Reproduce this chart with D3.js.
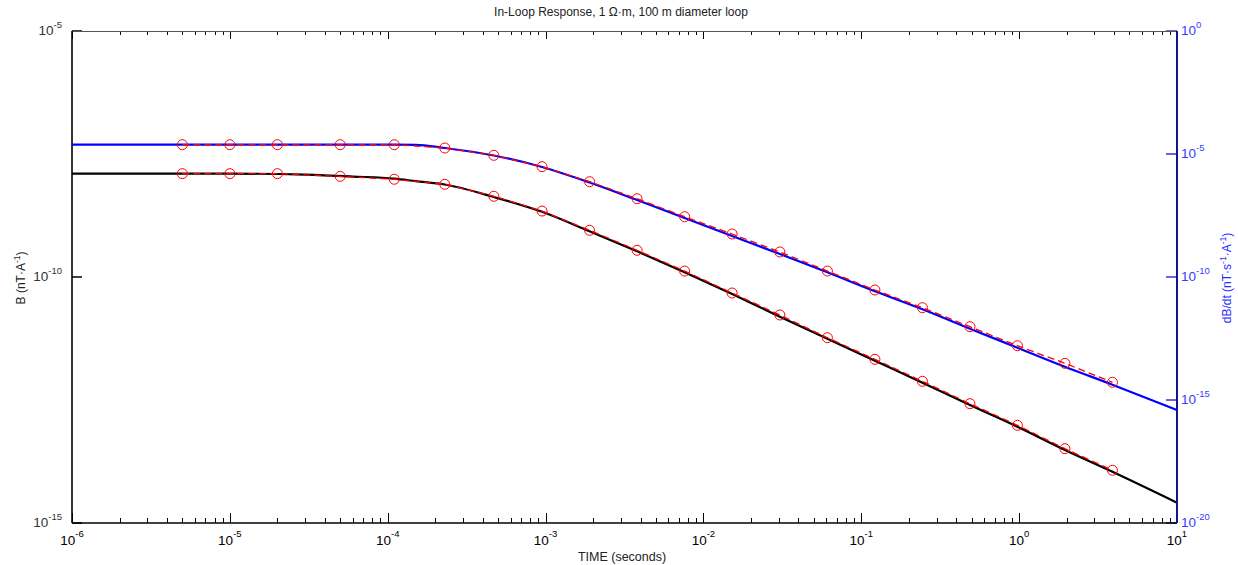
<!DOCTYPE html>
<html>
<head>
<meta charset="utf-8">
<script src="https://cdn.jsdelivr.net/npm/d3@7"></script>
<style>
  body { margin: 0; background: #fff; }
  svg { display: block; }
  text { font-family: "Liberation Sans", Arial, sans-serif; }
</style>
</head>
<body>
<div id="chart"></div>
<script>
// model curves (solid lines)
var timeModel = [1e-6, 1e-5, 3e-5, 6e-5, 1.1e-4, 1.5e-4, 2.3e-4, 4.7e-4, 9.5e-4, 1.9e-3, 3.8e-3, 7.6e-3,
  1.52e-2, 3.05e-2, 6.1e-2, 0.122, 0.244, 0.488, 0.975, 1.95, 3.9, 10];
var bModel = [1.26e-8, 1.26e-8, 1.20e-8, 1.10e-8, 1.00e-8, 8.9e-9, 7.58e-9, 4.23e-9, 2.12e-9, 8.49e-10,
  3.33e-10, 1.25e-10, 4.51e-11, 1.56e-11, 5.57e-12, 1.99e-12, 7.11e-13, 2.50e-13, 9.06e-14, 3.05e-14,
  1.10e-14, 2.59e-15];
var dbModel = [2.39e-5, 2.39e-5, 2.39e-5, 2.39e-5, 2.39e-5, 2.37e-5, 1.75e-5, 8.69e-6, 2.96e-6, 6.94e-7,
  1.35e-7, 2.50e-8, 4.65e-9, 8.61e-10, 1.55e-10, 2.62e-11, 4.86e-12, 7.91e-13, 1.34e-13, 2.26e-14,
  4.19e-15, 3.92e-16];

// sampled values (red circles + dashed line)
var timeData = [5e-6, 1e-5, 2e-5, 5e-5, 1.1e-4, 2.3e-4, 4.7e-4, 9.5e-4, 1.9e-3, 3.8e-3, 7.6e-3, 1.52e-2,
  3.05e-2, 6.1e-2, 0.122, 0.244, 0.488, 0.975, 1.95, 3.9];
var bData = [1.26e-8, 1.26e-8, 1.26e-8, 1.11e-8, 9.7e-9, 7.66e-9, 4.37e-9, 2.19e-9, 8.89e-10, 3.49e-10,
  1.32e-10, 4.73e-11, 1.69e-11, 5.83e-12, 2.12e-12, 7.59e-13, 2.66e-13, 9.68e-14, 3.24e-14, 1.18e-14];
var dbData = [2.39e-5, 2.39e-5, 2.39e-5, 2.39e-5, 2.39e-5, 1.75e-5, 8.85e-6, 3.05e-6, 7.48e-7, 1.52e-7,
  2.82e-8, 5.60e-9, 1.04e-9, 1.75e-10, 2.96e-11, 5.65e-12, 9.55e-13, 1.61e-13, 3.10e-14, 5.25e-15];

// ticks
var xMajor = [1e-6, 1e-5, 1e-4, 1e-3, 1e-2, 1e-1, 1e0, 1e1];
var xMinor = [];
xMajor.slice(0, -1).forEach(function (d) {
  for (var k = 2; k <= 9; k++) xMinor.push(d * k);
});
var yLeftTicks = [1e-15, 1e-10, 1e-5];
var yRightTicks = [1e-20, 1e-15, 1e-10, 1e-5, 1e0];

var width = 1238, height = 565;
// plot box (note: "top" is taken by window.top, so prefix these)
var pLeft = 72, pRight = 1177, pTop = 31, pBottom = 523;

var svg = d3.select('#chart').append('svg')
  .attr('width', width).attr('height', height);

var x = d3.scaleLog().domain([1e-6, 10]).range([pLeft, pRight]);
var yL = d3.scaleLog().domain([1e-15, 1e-5]).range([pBottom, pTop]);
var yR = d3.scaleLog().domain([1e-20, 1e0]).range([pBottom, pTop]);

function expOf(v) { return Math.round(Math.log10(v)); }

// put a "10^n" label into a text element
function powLabel(t, v, supSize, rise) {
  t.append('tspan').text('10');
  t.append('tspan').attr('dy', -rise).attr('font-size', supSize).text(expOf(v));
}

// x axis ticks, bottom and top, pointing inwards
function xTicks(g, vals, len, dir) {
  g.selectAll(null).data(vals).enter().append('line')
    .attr('x1', function (d) { return Math.round(x(d)) + 0.5; })
    .attr('x2', function (d) { return Math.round(x(d)) + 0.5; })
    .attr('y1', 0).attr('y2', dir * len)
    .attr('stroke', '#000').attr('stroke-width', 1);
}
var gb = svg.append('g').attr('transform', 'translate(0,' + pBottom + ')');
xTicks(gb, xMinor, 5, -1);
xTicks(gb, xMajor, 10, -1);
var gt = svg.append('g').attr('transform', 'translate(0,' + pTop + ')');
xTicks(gt, xMinor, 4, 1);
xTicks(gt, xMajor, 8, 1);

// left ticks
svg.append('g').selectAll('line').data(yLeftTicks).enter().append('line')
  .attr('x1', pLeft).attr('x2', pLeft + 10)
  .attr('y1', function (d) { return yL(d); }).attr('y2', function (d) { return yL(d); })
  .attr('stroke', '#000').attr('stroke-width', 1.5);

// right ticks
svg.append('g').selectAll('line').data(yRightTicks).enter().append('line')
  .attr('x1', pRight - 11).attr('x2', pRight)
  .attr('y1', function (d) { return yR(d); }).attr('y2', function (d) { return yR(d); })
  .attr('stroke', '#3535d0').attr('stroke-width', 1.5);

// frame
svg.append('line').attr('x1', pLeft).attr('x2', pRight).attr('y1', pTop + 0.5).attr('y2', pTop + 0.5)
  .attr('stroke', '#555').attr('stroke-width', 1);
svg.append('line').attr('x1', pLeft).attr('x2', pRight).attr('y1', pBottom).attr('y2', pBottom)
  .attr('stroke', '#000').attr('stroke-width', 1.6);
svg.append('line').attr('x1', pLeft).attr('x2', pLeft).attr('y1', pTop).attr('y2', pBottom)
  .attr('stroke', '#000').attr('stroke-width', 1.6);

// curves
var lineB = d3.line().x(function (d) { return x(d[0]); }).y(function (d) { return yL(d[1]); });
var lineDb = d3.line().x(function (d) { return x(d[0]); }).y(function (d) { return yR(d[1]); });

var modelB = timeModel.map(function (t, i) { return [t, bModel[i]]; });
var modelDb = timeModel.map(function (t, i) { return [t, dbModel[i]]; });
var dataB = timeData.map(function (t, i) { return [t, bData[i]]; });
var dataDb = timeData.map(function (t, i) { return [t, dbData[i]]; });

svg.append('path').datum(modelB)
  .attr('d', lineB.curve(d3.curveMonotoneX))
  .attr('fill', 'none').attr('stroke', '#000').attr('stroke-width', 2.2);
svg.append('path').datum(modelDb)
  .attr('d', lineDb.curve(d3.curveMonotoneX))
  .attr('fill', 'none').attr('stroke', '#0000ff').attr('stroke-width', 2.2);

lineB.curve(d3.curveLinear);
lineDb.curve(d3.curveLinear);
[[dataB, lineB, yL], [dataDb, lineDb, yR]].forEach(function (s) {
  svg.append('path').datum(s[0])
    .attr('d', s[1])
    .attr('fill', 'none').attr('stroke', '#ff0000').attr('stroke-width', 1.3)
    .attr('stroke-dasharray', '7,4');
  svg.append('g').selectAll('circle').data(s[0]).enter().append('circle')
    .attr('cx', function (d) { return x(d[0]); })
    .attr('cy', function (d) { return s[2](d[1]); })
    .attr('r', 5)
    .attr('fill', 'none').attr('stroke', '#ff0000').attr('stroke-width', 1);
});

// right axis line on top
svg.append('line').attr('x1', pRight).attr('x2', pRight).attr('y1', pTop).attr('y2', pBottom)
  .attr('stroke', '#14148c').attr('stroke-width', 2);

// x tick labels
svg.append('g').selectAll('text').data(xMajor).enter().append('text')
  .attr('x', function (d) { return x(d); }).attr('y', 545)
  .attr('text-anchor', 'middle').attr('font-size', 13.5).attr('fill', '#000')
  .each(function (d) { powLabel(d3.select(this), d, 9.5, 8); });

// left tick labels
svg.append('g').selectAll('text').data(yLeftTicks).enter().append('text')
  .attr('x', pLeft - 10).attr('y', function (d) { return yL(d) + 4; })
  .attr('text-anchor', 'end').attr('font-size', 13.5).attr('fill', '#333')
  .each(function (d) { powLabel(d3.select(this), d, 9.5, 7); });

// right tick labels
svg.append('g').selectAll('text').data(yRightTicks).enter().append('text')
  .attr('x', pRight + 4).attr('y', function (d) { return yR(d) + 4; })
  .attr('text-anchor', 'start').attr('font-size', 13.5).attr('fill', '#3a3aff')
  .each(function (d) { powLabel(d3.select(this), d, 9.5, 7); });

// title and axis labels
svg.append('text').attr('x', 621).attr('y', 16).attr('text-anchor', 'middle')
  .attr('font-size', 12).attr('fill', '#222')
  .text('In-Loop Response, 1 \u03A9\u00B7m, 100 m diameter loop');

svg.append('text').attr('x', 622).attr('y', 561).attr('text-anchor', 'middle')
  .attr('font-size', 12.5).attr('fill', '#222').text('TIME (seconds)');

var yl = svg.append('text').attr('transform', 'translate(25,278) rotate(-90)')
  .attr('text-anchor', 'middle').attr('font-size', 12).attr('fill', '#222');
yl.append('tspan').text('B (nT\u00B7A');
yl.append('tspan').attr('dy', -5).attr('font-size', 8.5).text('-1');
yl.append('tspan').attr('dy', 5).text(')');

var yr = svg.append('text').attr('transform', 'translate(1231,278) rotate(-90)')
  .attr('text-anchor', 'middle').attr('font-size', 12).attr('fill', '#2a2aff');
yr.append('tspan').text('dB/dt (nT\u00B7s');
yr.append('tspan').attr('dy', -5).attr('font-size', 8.5).text('-1');
yr.append('tspan').attr('dy', 5).text('\u00B7A');
yr.append('tspan').attr('dy', -5).attr('font-size', 8.5).text('-1');
yr.append('tspan').attr('dy', 5).text(')');
</script>
</body>
</html>
